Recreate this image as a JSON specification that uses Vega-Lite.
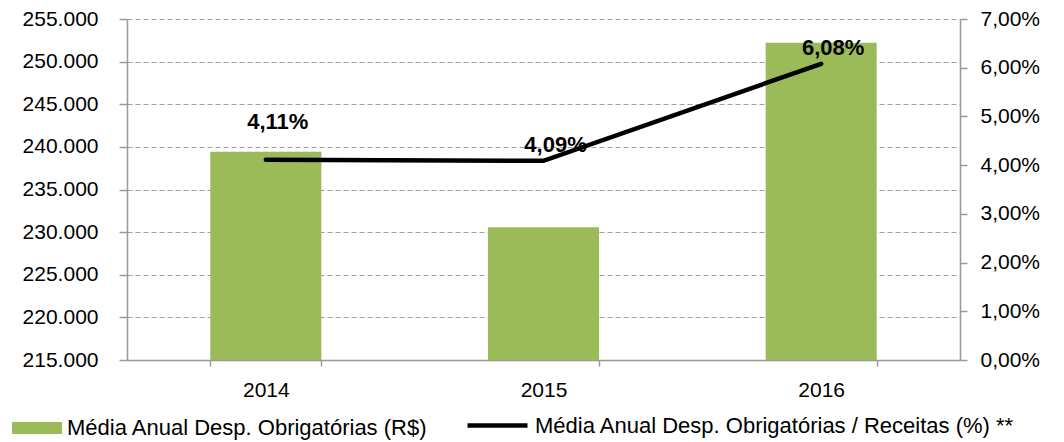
{
  "$schema": "https://vega.github.io/schema/vega-lite/v6.json",
  "width": 833,
  "height": 341,
  "autosize": "none",
  "padding": {"left": 127, "top": 19, "right": 104, "bottom": 82},
  "config": {
    "locale": {"number": {"decimal": ",", "thousands": ".", "grouping": [3], "currency": ["R$ ", ""]}},
    "view": {"stroke": null},
    "font": "Liberation Sans",
    "axis": {
      "labelFont": "Liberation Sans",
      "labelFontSize": 21,
      "labelColor": "#000000",
      "domainColor": "#999999",
      "domainWidth": 1.5,
      "tickColor": "#999999",
      "tickWidth": 1.5,
      "gridColor": "#a0a0a0",
      "gridDash": [5, 3],
      "gridWidth": 1.2,
      "title": null
    },
    "legend": {
      "labelFont": "Liberation Sans",
      "labelFontSize": 22,
      "labelColor": "#000000",
      "labelOffset": 5,
      "labelLimit": 700,
      "title": null
    }
  },
  "data": {
    "values": [
      {"ano": "2014", "despesa": 239430, "perc": 0.0411},
      {"ano": "2015", "despesa": 230560, "perc": 0.0409},
      {"ano": "2016", "despesa": 252220, "perc": 0.0608}
    ]
  },
  "layer": [
    {
      "mark": {"type": "bar"},
      "encoding": {
        "x": {
          "field": "ano",
          "type": "ordinal",
          "scale": {"paddingInner": 0.6, "paddingOuter": 0.3},
          "axis": {"labelAngle": 0, "tickBand": "extent", "tickSize": 6, "labelPadding": 13, "grid": false}
        },
        "y": {
          "field": "despesa",
          "type": "quantitative",
          "scale": {"domain": [215000, 255000], "zero": false, "nice": false},
          "axis": {
            "orient": "left",
            "format": ",.0f",
            "values": [215000, 220000, 225000, 230000, 235000, 240000, 245000, 250000, 255000],
            "tickSize": 8,
            "labelPadding": 21,
            "grid": true
          }
        },
        "y2": {"datum": 215000},
        "fill": {
          "datum": "Média Anual Desp. Obrigatórias (R$)",
          "type": "nominal",
          "scale": {"range": ["#9BBB59"]},
          "legend": {
            "orient": "none",
            "legendX": -115,
            "legendY": 384,
            "symbolType": "M-1,-0.24H1V0.24H-1Z",
            "symbolSize": 2500,
            "symbolStrokeWidth": 0
          }
        }
      }
    },
    {
      "encoding": {
        "x": {"field": "ano", "type": "ordinal"},
        "y": {
          "field": "perc",
          "type": "quantitative",
          "scale": {"domain": [0, 0.07], "nice": false},
          "axis": {
            "orient": "right",
            "format": ".2%",
            "values": [0, 0.01, 0.02, 0.03, 0.04, 0.05, 0.06, 0.07],
            "tickSize": 7,
            "labelPadding": 13,
            "grid": false
          }
        }
      },
      "layer": [
        {
          "mark": {"type": "line", "strokeWidth": 4.5, "strokeCap": "round", "strokeJoin": "miter"},
          "encoding": {
            "stroke": {
              "datum": "Média Anual Desp. Obrigatórias / Receitas (%) **",
              "type": "nominal",
              "scale": {"range": ["#000000"]},
              "legend": {
                "orient": "none",
                "legendX": 338,
                "legendY": 374,
                "symbolType": "M-1,0H1",
                "symbolSize": 3600,
                "symbolStrokeWidth": 4.5
              }
            }
          }
        },
        {
          "transform": [{"filter": "datum.ano == '2014'"}],
          "mark": {"type": "text", "fontWeight": "bold", "fontSize": 22, "dx": 12, "dy": -31, "baseline": "alphabetic", "align": "center", "color": "#000000"},
          "encoding": {"text": {"field": "perc", "type": "quantitative", "format": ".2%"}}
        },
        {
          "transform": [{"filter": "datum.ano != '2014'"}],
          "mark": {"type": "text", "fontWeight": "bold", "fontSize": 22, "dx": 12, "dy": -9, "baseline": "alphabetic", "align": "center", "color": "#000000"},
          "encoding": {"text": {"field": "perc", "type": "quantitative", "format": ".2%"}}
        }
      ]
    }
  ],
  "resolve": {"scale": {"y": "independent"}}
}
